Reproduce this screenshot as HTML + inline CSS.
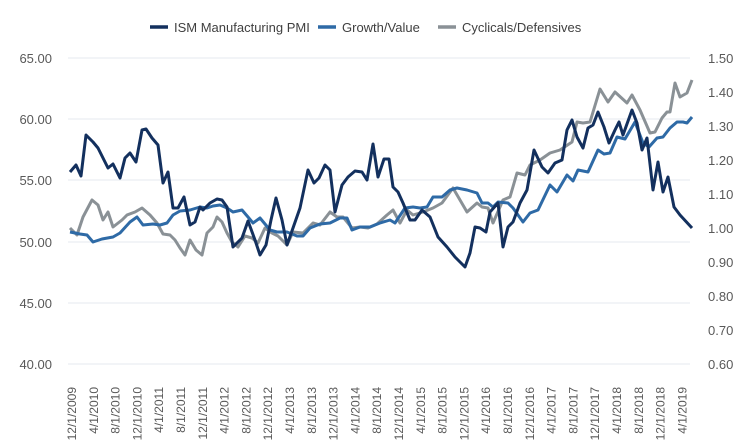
<!DOCTYPE html>
<html><head><meta charset="utf-8"><style>
html,body{margin:0;padding:0;background:#fff;}
svg{display:block;font-family:"Liberation Sans",sans-serif;}
</style></head><body>
<svg width="750" height="448" viewBox="0 0 750 448">
<g stroke="#e6eaef" stroke-width="1">
<line x1="68" y1="58" x2="690" y2="58"/><line x1="68" y1="119" x2="690" y2="119"/><line x1="68" y1="180" x2="690" y2="180"/><line x1="68" y1="242" x2="690" y2="242"/><line x1="68" y1="303" x2="690" y2="303"/><line x1="68" y1="364" x2="690" y2="364"/>
</g>
<g font-size="13" fill="#595959" text-anchor="end">
<text x="52" y="63">65.00</text><text x="52" y="124">60.00</text><text x="52" y="185">55.00</text><text x="52" y="247">50.00</text><text x="52" y="308">45.00</text><text x="52" y="369">40.00</text>
</g>
<g font-size="13" fill="#595959" text-anchor="start">
<text x="708" y="63">1.50</text><text x="708" y="97">1.40</text><text x="708" y="131">1.30</text><text x="708" y="165">1.20</text><text x="708" y="199">1.10</text><text x="708" y="233">1.00</text><text x="708" y="267">0.90</text><text x="708" y="301">0.80</text><text x="708" y="335">0.70</text><text x="708" y="369">0.60</text>
</g>
<g font-size="12" fill="#595959" text-anchor="end" id="xl"></g>
<g fill="none" stroke-width="3" stroke-linejoin="round">
<polyline stroke="#8a9196" points="70,228 77,235 83,217 92,200 98,205 103,220 108,212 113,227 122,220 127,215 135,212 142,208 150,215 157,223 163,234 170,235 175,240 180,248 185,255 190,240 196,250 202,255 207,233 213,227 217,217 222,222 227,233 232,242 238,247 245,236 252,238 258,243 265,228 272,233 278,236 287,245 293,232 303,233 313,223 320,225 330,212 337,217 343,217 352,228 360,227 368,228 377,224 387,215 393,210 400,223 407,210 413,215 423,212 433,208 442,203 453,188 467,212 477,203 482,207 488,208 493,223 503,200 510,197 517,173 525,175 530,165 540,160 550,153 560,150 572,142 577,122 583,123 590,122 600,89 608,102 615,92 627,103 632,95 640,110 650,133 655,132 662,118 667,112 670,112 675,83 680,97 687,93 692,80"/>
<polyline stroke="#2e6aa6" points="70,232 80,234 87,235 93,242 102,239 113,237 120,233 130,222 137,217 143,225 153,224 160,225 167,223 173,215 180,211 190,210 200,207 207,208 213,206 220,205 227,208 233,212 242,210 248,217 253,223 260,218 270,230 277,232 287,232 297,236 303,236 310,228 320,224 330,223 340,218 347,218 352,230 360,227 370,227 380,223 390,220 395,223 405,208 413,207 420,208 427,207 433,197 442,197 450,190 457,188 467,190 477,193 482,203 488,203 493,207 498,202 508,203 513,208 523,222 530,213 538,210 550,185 557,192 567,175 573,181 578,170 588,172 598,150 604,154 610,153 617,137 625,139 635,122 643,143 649,147 657,138 663,137 670,128 677,122 683,122 687,123 692,117"/>
<polyline stroke="#13305e" points="70,172 76,165 81,176 86,135 93,142 98,148 104,160 108,168 113,164 120,178 125,158 130,153 136,162 142,130 146,129 152,138 158,145 163,183 168,172 173,208 178,208 184,197 190,225 195,222 200,207 203,210 210,203 217,199 222,200 227,207 233,247 237,243 242,238 248,221 255,240 260,255 266,245 271,220 276,198 282,220 287,245 293,228 300,208 308,170 314,183 319,178 325,165 330,170 335,212 342,185 348,177 355,171 362,172 367,180 373,144 378,177 384,159 389,159 393,187 398,192 403,203 410,220 415,220 422,210 430,217 438,237 447,247 455,257 465,267 470,253 475,227 480,228 486,232 490,212 498,203 503,247 508,227 513,222 520,203 527,190 534,150 542,167 548,173 555,163 562,160 567,130 572,120 577,137 583,148 588,128 593,125 598,112 604,127 609,143 615,130 619,122 623,135 632,110 637,123 642,150 647,138 653,190 658,162 663,192 668,177 674,207 680,215 692,228"/>
</g>
<g stroke-width="3.5">
<line x1="150" y1="27" x2="168" y2="27" stroke="#13305e"/>
<line x1="318" y1="27" x2="336" y2="27" stroke="#2e6aa6"/>
<line x1="438" y1="27" x2="456" y2="27" stroke="#8a9196"/>
</g>
<g font-size="13" fill="#404040">
<text x="174" y="32">ISM Manufacturing PMI</text>
<text x="342" y="32">Growth/Value</text>
<text x="462" y="32">Cyclicals/Defensives</text>
</g>
</svg>
<script>
var L=["12/1/2009","4/1/2010","8/1/2010","12/1/2010","4/1/2011","8/1/2011","12/1/2011","4/1/2012","8/1/2012","12/1/2012","4/1/2013","8/1/2013","12/1/2013","4/1/2014","8/1/2014","12/1/2014","4/1/2015","8/1/2015","12/1/2015","4/1/2016","8/1/2016","12/1/2016","4/1/2017","8/1/2017","12/1/2017","4/1/2018","8/1/2018","12/1/2018","4/1/2019"];
var g=document.getElementById("xl"),s="";
for(var i=0;i<L.length;i++){var x=76+i*21.8;s+='<text transform="translate('+x+',387) rotate(-90)">'+L[i]+'</text>';}
g.innerHTML=s;
</script>
</body></html>
